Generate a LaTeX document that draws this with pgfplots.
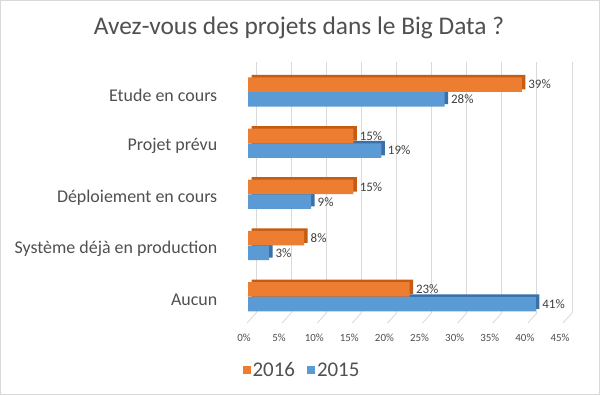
\documentclass[border=0pt]{standalone}
\usepackage{pgfplots}
\pgfplotsset{compat=1.18}
\usepackage{fontspec}
\setmainfont{Carlito}
\definecolor{orangeF}{HTML}{ED7D31}
\definecolor{orangeD}{HTML}{C65B12}
\definecolor{blueF}{HTML}{5B9BD5}
\definecolor{blueD}{HTML}{3A6FA8}
\definecolor{gridc}{HTML}{D9D9D9}
\definecolor{txt}{HTML}{505050}
\definecolor{lbl}{HTML}{404040}
\pgfplotstableread{
x y
39 4
15 3
15 2
8 1
23 0
}\dataA
\pgfplotstableread{
x y
28 4
19 3
9 2
3 1
41 0
}\dataB
\begin{document}
\begin{tikzpicture}
\fill[white] (0,0) rectangle (600bp,395bp);
\draw[gridc, line width=1bp] (0.5bp,0.5bp) rectangle (599.5bp,394.5bp);
\node[text=txt, font=\fontsize{25.5}{30}\selectfont] at (299bp,367bp) {Avez-vous des projets dans le Big Data ?};
\begin{axis}[
  at={(248bp,72bp)}, anchor=south west,
  width=316bp, height=261bp, scale only axis,
  xbar, clip=false,
  xmin=0, xmax=45, ymin=-0.508, ymax=4.586,
  axis line style={draw=none}, tick style={draw=none},
  xtick={0,5,...,45},
  xticklabel={\pgfmathprintnumber{\tick}\%},
  /pgf/number format/assume math mode=true,
  xticklabel style={text=txt, font=\fontsize{11}{13}\selectfont, xshift=-4bp, yshift=-8bp},
  ytick={0,1,2,3,4},
  yticklabels={Aucun, Système déjà en production, Déploiement en cours, Projet prévu, Etude en cours},
  yticklabel style={text=txt, font=\fontsize{18}{21}\selectfont, xshift=-23bp, yshift=-3bp},
  legend style={at={(0.171,-0.18)}, anchor=center, draw=none, fill=none,
    legend columns=2, font=\fontsize{21}{24}\selectfont, text=txt,
    /tikz/every even column/.append style={column sep=10bp}},
  legend image code/.code={\fill[#1] (0bp,-4bp) rectangle (8bp,4bp);},
  every node near coord/.append style={text=lbl, font=\fontsize{13}{15}\selectfont, anchor=west, xshift=3bp},
  point meta=x,
]
\pgfplotsinvokeforeach{0,5,10,15,20,25,30,35,40,45}{
  \draw[gridc, line width=0.8bp] ([xshift=8bp]axis cs:#1,-0.3125) -- ([xshift=8bp]axis cs:#1,4.586);
  \draw[gridc, line width=0.8bp] ([xshift=8bp]axis cs:#1,-0.3125) -- ([xshift=-1bp]axis cs:#1,-0.508);
}
% 2015 (blue): side/top faces then front
\addplot[fill=blueD, draw=none, bar width=14.5bp, bar shift=-7.25bp, xshift=3.5bp, yshift=2.5bp, forget plot] table[x=x,y=y] {\dataB};
\addplot[fill=blueF, draw=none, bar width=14.5bp, bar shift=-7.25bp,
  nodes near coords={\pgfmathprintnumber{\pgfplotspointmeta}\%}, forget plot] table[x=x,y=y] {\dataB};
% 2016 (orange)
\addplot[fill=orangeD, draw=none, bar width=14.5bp, bar shift=7.5bp, xshift=3.5bp, yshift=2.5bp, forget plot] table[x=x,y=y] {\dataA};
\addplot[fill=orangeF, draw=none, bar width=14.5bp, bar shift=7.5bp,
  nodes near coords={\pgfmathprintnumber{\pgfplotspointmeta}\%}] table[x=x,y=y] {\dataA};
\addlegendentry{2016}
\addlegendimage{fill=blueF, draw=none}
\addlegendentry{2015}
\end{axis}
\end{tikzpicture}
\end{document}
